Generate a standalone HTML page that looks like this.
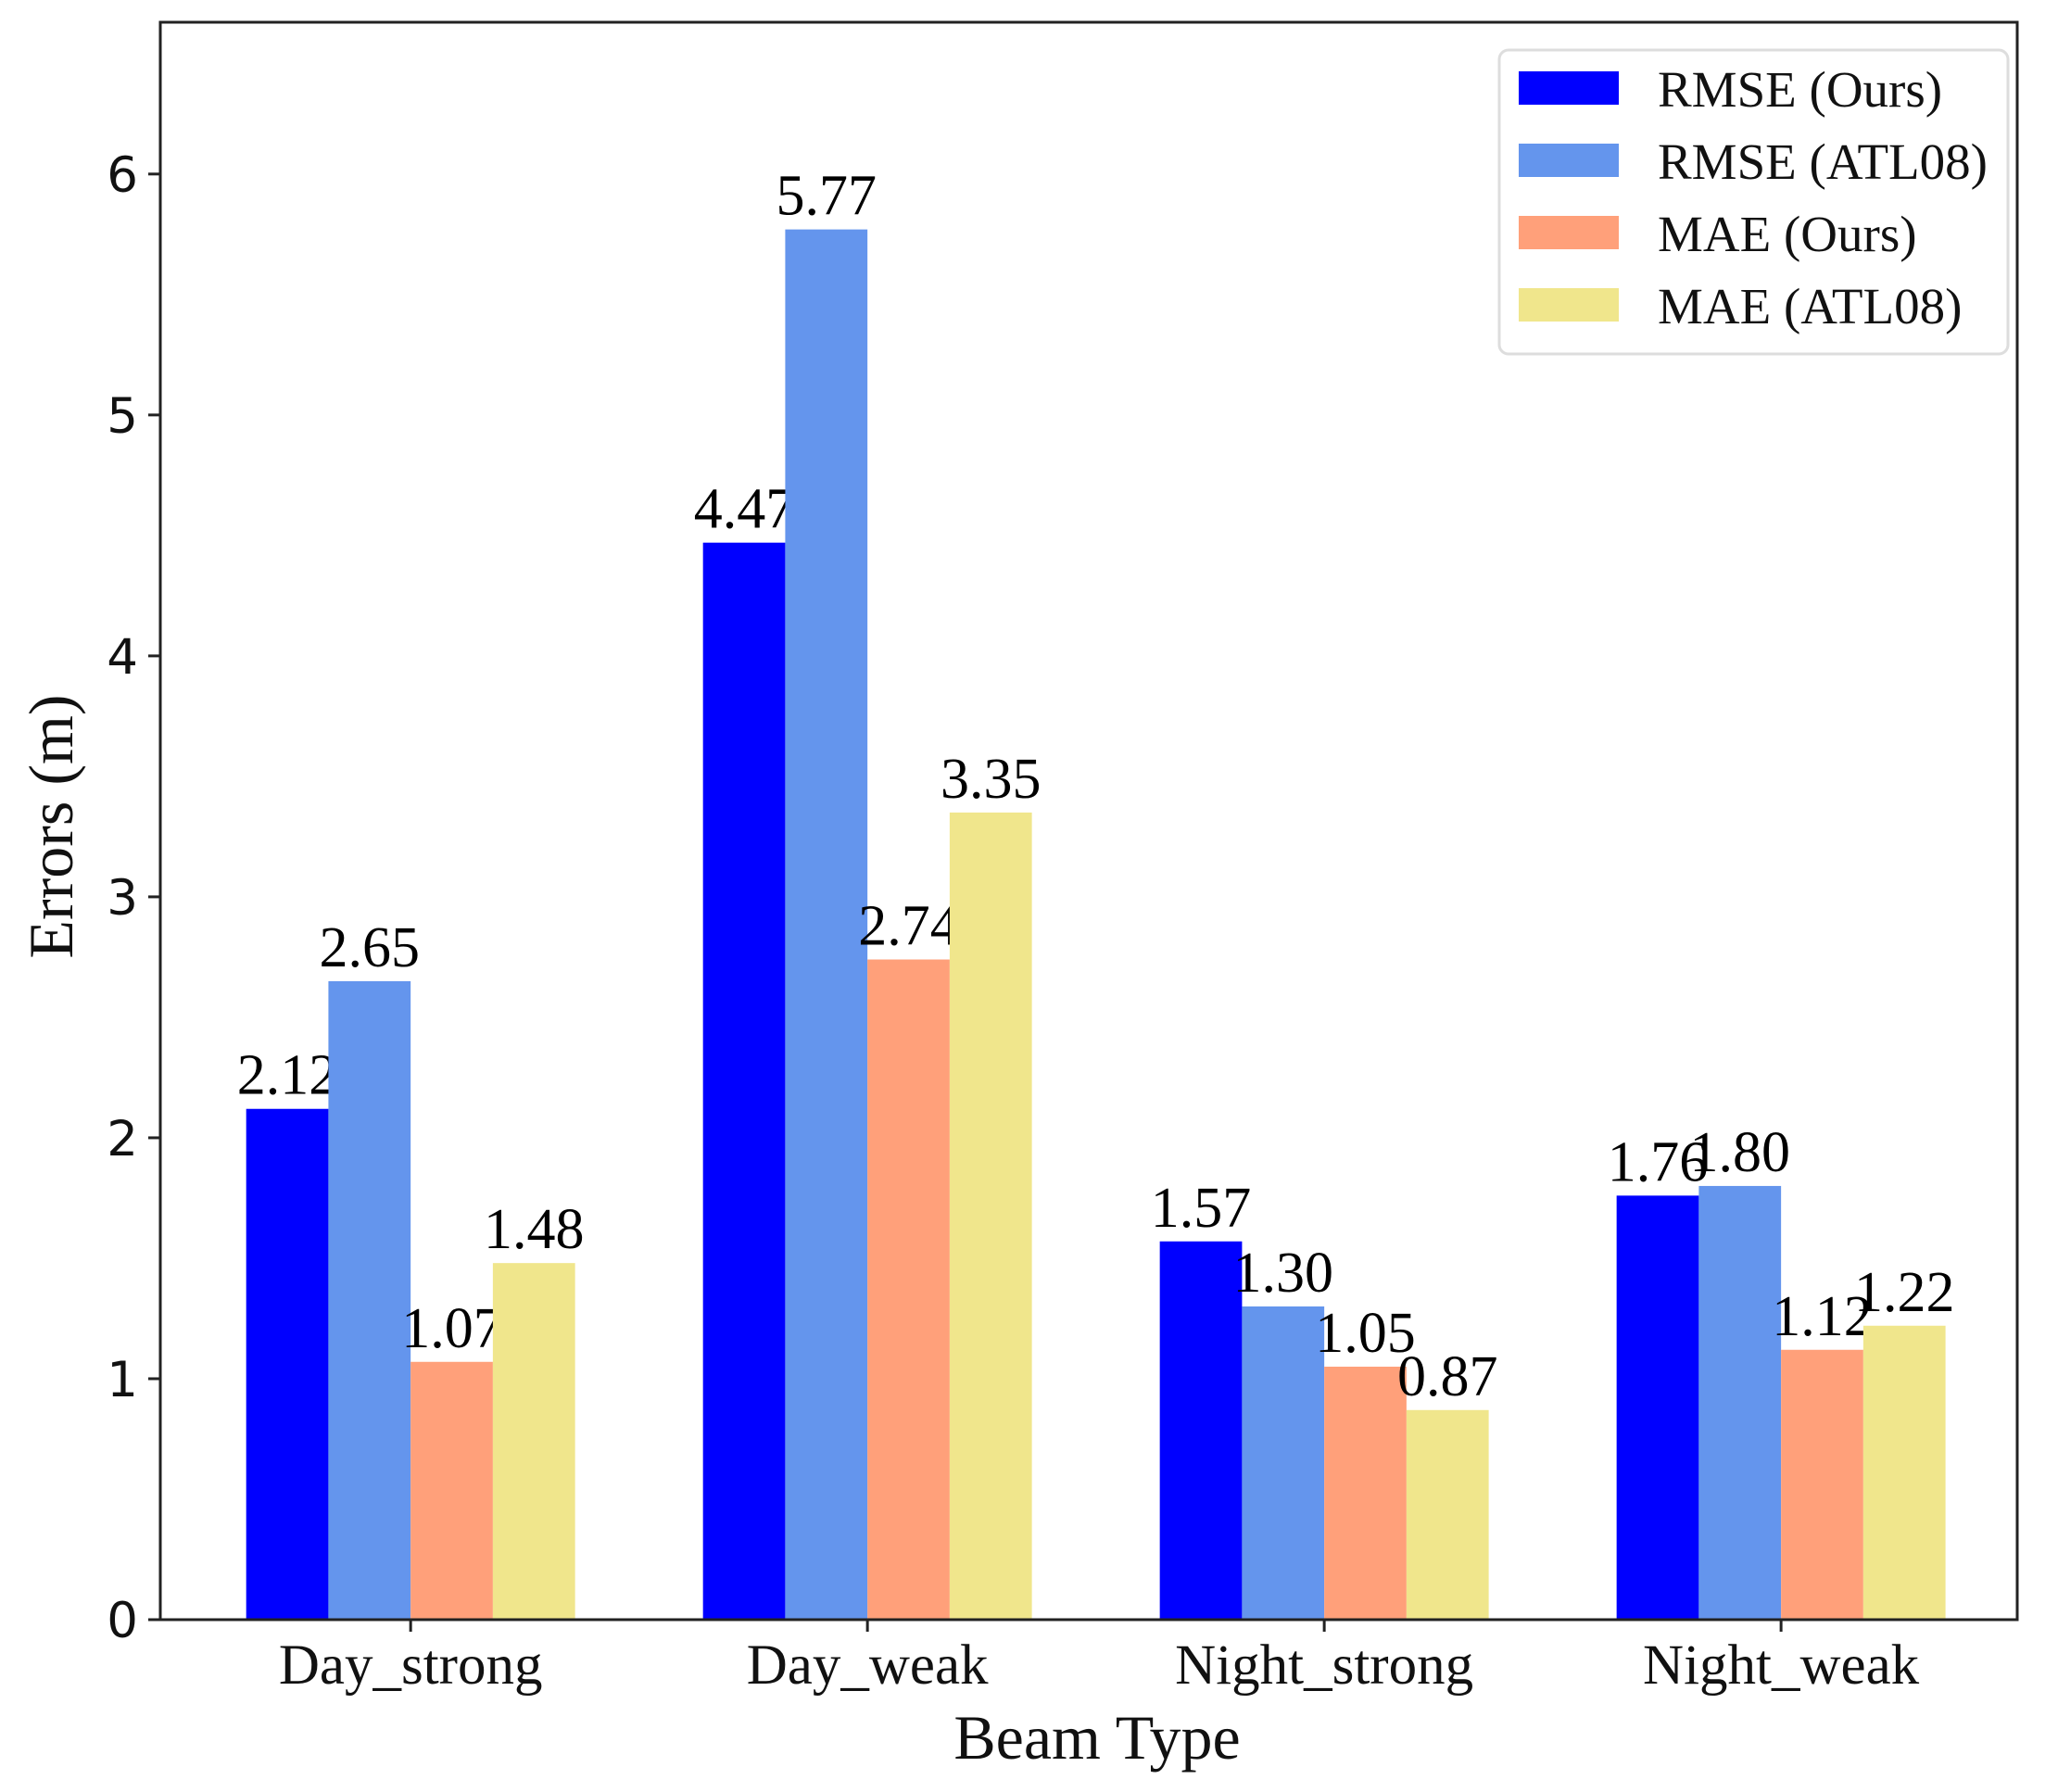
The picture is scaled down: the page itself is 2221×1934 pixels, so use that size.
<!DOCTYPE html>
<html><head><meta charset="utf-8"><style>
html,body{margin:0;padding:0;background:#fff;}
svg{display:block;}
</style></head><body>
<svg id="chart" width="2221" height="1934" viewBox="0 0 2221 1934" xmlns="http://www.w3.org/2000/svg"></svg>
<script>
const categories = ["Day_strong","Day_weak","Night_strong","Night_weak"];
const rmseOurs = [2.12, 4.47, 1.57, 1.76];
const rmseAtl = [2.65, 5.77, 1.30, 1.80];
const maeOurs = [1.07, 2.74, 1.05, 1.12];
const maeAtl = [1.48, 3.35, 0.87, 1.22];
const seriesNames = ["RMSE (Ours)","RMSE (ATL08)","MAE (Ours)","MAE (ATL08)"];
const yTicks = [0,1,2,3,4,5,6];
const valueLabels = [
  ["2.12","4.47","1.57","1.76"],
  ["2.65","5.77","1.30","1.80"],
  ["1.07","2.74","1.05","1.12"],
  ["1.48","3.35","0.87","1.22"]
];

const series = [rmseOurs, rmseAtl, maeOurs, maeAtl];
const colors = ["#0000ff","#6495ed","#ffa07a","#f0e68c"];
const L=173, R=2177, T=24, B=1748;
const xMin=-0.548, xMax=3.517, yMax=6.63;
const xs = v => L + (v - xMin) / (xMax - xMin) * (R - L);
const ys = v => B - v / yMax * (B - T);
const bw = 0.18;
const NS="http://www.w3.org/2000/svg";
const svg=document.getElementById('chart');
function mk(tag, attrs, text){
  const e=document.createElementNS(NS,tag);
  for(const k in attrs) e.setAttribute(k,attrs[k]);
  if(text!==undefined) e.textContent=text;
  svg.appendChild(e); return e;
}
const serif='"Liberation Serif", serif';
const sans='"DejaVu Sans", "Liberation Sans", sans-serif';

series.forEach((s,si)=>{
  s.forEach((v,ci)=>{
    const x0 = xs(ci + (si-2)*bw);
    const x1 = xs(ci + (si-1)*bw);
    const r=mk('rect',{x:x0,y:ys(v),width:x1-x0,height:ys(0)-ys(v),fill:colors[si]});
    
    
    const t=mk('text',{x:(x0+x1)/2,y:ys(v)-16,'text-anchor':'middle','font-family':serif,'font-size':62,fill:'#000'},valueLabels[si][ci]);
    
    
  });
});

const fr=mk('rect',{x:L,y:T,width:R-L,height:B-T,fill:'none',stroke:'#222',"stroke-width":3});



yTicks.forEach(v=>{
  const y=ys(v);
  const l=mk('line',{x1:L-13,x2:L,y1:y,y2:y,stroke:'#222','stroke-width':3});
  
  
  const t=mk('text',{x:L-24,y:y+19,'text-anchor':'end','font-family':sans,'font-size':53,fill:'#111'},String(v));
  
  
});
categories.forEach((c,i)=>{
  const x=xs(i);
  const l=mk('line',{x1:x,x2:x,y1:B,y2:B+13,stroke:'#222','stroke-width':3});
  
  
  const t=mk('text',{x:x,y:1817,'text-anchor':'middle','font-family':serif,'font-size':61,fill:'#111'},c);
  
  
});
const xt=mk('text',{x:1184,y:1898,'text-anchor':'middle','font-family':serif,'font-size':68,fill:'#111'},'Beam Type');


const yt=mk('text',{x:0,y:0,transform:'translate(78,892) rotate(-90)','text-anchor':'middle','font-family':serif,'font-size':68,fill:'#111'},'Errors (m)');



const lg=mk('rect',{x:1618,y:54,width:549,height:328,rx:10,fill:'#fff',stroke:'#ddd','stroke-width':3});


seriesNames.forEach((n,i)=>{
  const cy=95+i*78;
  const p=mk('rect',{x:1639,y:cy-18,width:108,height:36,fill:colors[i]});
  
  
  const t=mk('text',{x:1789,y:cy+20,'font-family':serif,'font-size':55,fill:'#111'},n);
  
  
});
</script>
</body></html>
